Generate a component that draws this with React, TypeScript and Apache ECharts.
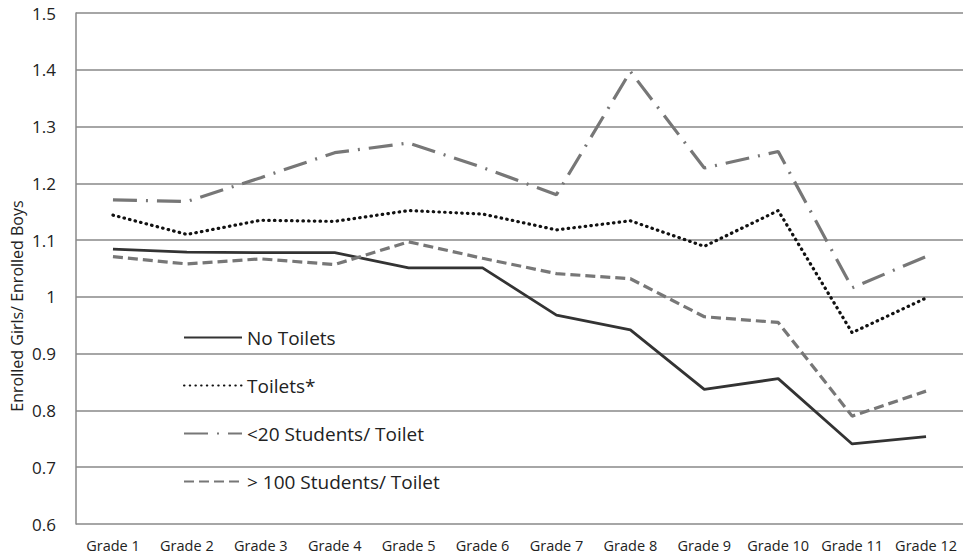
import React, { useEffect, useRef } from "react";
import * as echarts from "echarts";

const categories = ["Grade 1", "Grade 2", "Grade 3", "Grade 4", "Grade 5", "Grade 6", "Grade 7", "Grade 8", "Grade 9", "Grade 10", "Grade 11", "Grade 12"];
const noToilets = [1.084, 1.079, 1.078, 1.078, 1.051, 1.051, 0.968, 0.942, 0.837, 0.856, 0.741, 0.754];
const toilets = [1.144, 1.110, 1.135, 1.133, 1.152, 1.146, 1.118, 1.134, 1.089, 1.152, 0.937, 0.998];
const under20 = [1.171, 1.168, 1.210, 1.254, 1.271, 1.228, 1.180, 1.397, 1.227, 1.256, 1.016, 1.071];
const over100 = [1.071, 1.058, 1.067, 1.057, 1.097, 1.068, 1.041, 1.032, 0.965, 0.955, 0.790, 0.834];
const seriesNames = ["No Toilets", "Toilets*", "<20 Students/ Toilet", "> 100 Students/ Toilet"];
const yTitle = "Enrolled Girls/ Enrolled Boys";

const FONT = "'Open Sans', 'Noto Sans', sans-serif";

export default function App() {
  const ref = useRef<HTMLDivElement>(null);
  useEffect(() => {
    if (!ref.current) return;
    const chart = echarts.init(ref.current, undefined, { renderer: "svg" });
    const mk = (name: string, data: number[], color: string, width: number, type: any, cap: string = "butt") => ({
      name,
      type: "line",
      data,
      symbol: "none",
      showSymbol: false,
      lineStyle: { color, width, type, cap },
      itemStyle: { color },
    });
    chart.setOption({
      animation: false,
      backgroundColor: "#ffffff",
      textStyle: { fontFamily: FONT },
      grid: { left: 76, top: 13, bottom: 33, width: 893 },
      graphic: [
        {
          type: "text",
          x: 17,
          y: 306,
          rotation: Math.PI / 2,
          style: {
            text: yTitle,
            fontSize: 16,
            fontFamily: FONT,
            fill: "#222",
            align: "center",
            verticalAlign: "middle",
          },
        },
      ],
      legend: {
        orient: "vertical",
        left: 178,
        top: 323,
        itemWidth: 58,
        itemHeight: 14,
        itemGap: 29,
        itemStyle: { opacity: 0 },
        textStyle: { fontSize: 19, color: "#222", fontFamily: FONT },
        data: seriesNames,
      },
      xAxis: {
        type: "category",
        data: categories,
        boundaryGap: true,
        axisLine: { show: false },
        axisTick: { show: false },
        axisLabel: { fontSize: 14.5, color: "#222", margin: 14, fontFamily: FONT, interval: 0 },
        splitLine: { show: false },
      },
      yAxis: {
        type: "value",
        min: 0.6,
        max: 1.5,
        interval: 0.1,
        axisLine: { show: true, lineStyle: { color: "#888", width: 1.5 } },
        axisTick: { show: false },
        axisLabel: {
          fontSize: 17,
          color: "#222",
          margin: 20,
          fontFamily: FONT,
          formatter: (v: number) => {
            const r = Math.round(v * 10) / 10;
            return r === 1 ? "1" : r.toFixed(1);
          },
        },
        splitLine: { show: true, lineStyle: { color: "#888", width: 1.5 } },
      },
      series: [
        mk(seriesNames[0], noToilets, "#333333", 2.8, "solid"),
        mk(seriesNames[1], toilets, "#111111", 3.2, [0.5, 5.2], "round"),
        mk(seriesNames[2], under20, "#777777", 3.2, [24, 9, 2, 9]),
        mk(seriesNames[3], over100, "#777777", 3.2, [10, 5]),
      ],
    });
    return () => chart.dispose();
  }, []);
  return <div ref={ref} style={{ width: 963, height: 557, position: "fixed", left: 0, top: 0 }} />;
}
